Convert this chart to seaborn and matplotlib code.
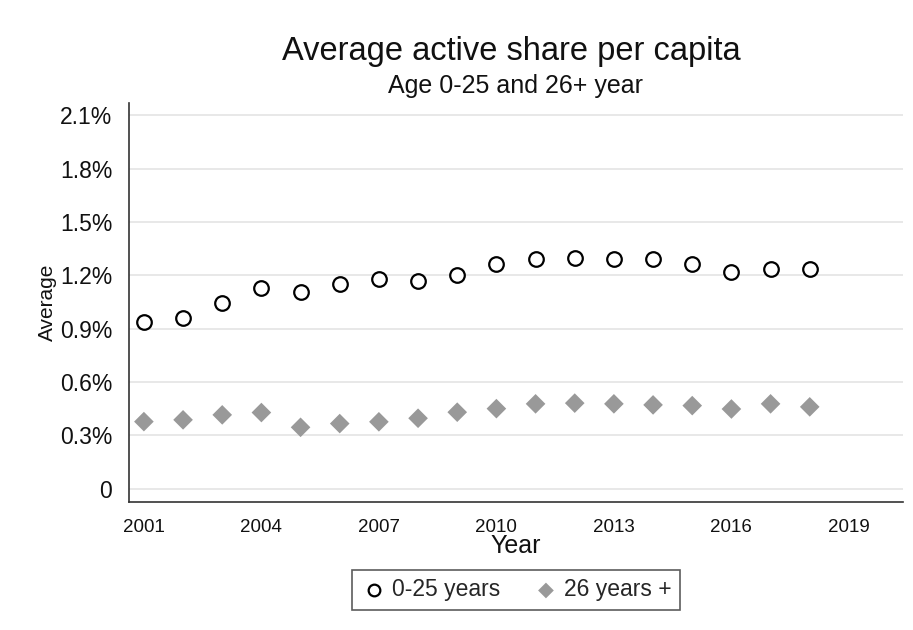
import matplotlib
matplotlib.use("Agg")
import matplotlib.pyplot as plt
import seaborn as sns
import pandas as pd
from matplotlib.ticker import FuncFormatter, FixedLocator

years = list(range(2001, 2019))
young = [0.935, 0.958, 1.046, 1.127, 1.108, 1.153, 1.181, 1.168, 1.202,
         1.264, 1.290, 1.296, 1.292, 1.292, 1.264, 1.221, 1.238, 1.236]
old = [0.377, 0.387, 0.415, 0.428, 0.345, 0.366, 0.376, 0.396, 0.430,
       0.450, 0.477, 0.481, 0.477, 0.471, 0.467, 0.448, 0.477, 0.460]
series_names = ["0-25 years", "26 years +"]
y_ticks = [0, 0.3, 0.6, 0.9, 1.2, 1.5, 1.8, 2.1]
x_ticks = [2001, 2004, 2007, 2010, 2013, 2016, 2019]

df = pd.DataFrame({
    "Year": years * 2,
    "Average": young + old,
    "group": [series_names[0]] * len(years) + [series_names[1]] * len(years),
})

sns.set_theme(style="white")
plt.rcParams["font.family"] = ["Liberation Sans", "DejaVu Sans"]

fig = plt.figure(figsize=(9.13, 6.3), dpi=100)
ax = fig.add_axes([0.1413, 0.2032, 0.989 - 0.1413, 0.8365 - 0.2032])

sub_y = df[df.group == series_names[0]]
sub_o = df[df.group == series_names[1]]
sns.scatterplot(data=sub_y, x="Year", y="Average", ax=ax, marker="o", s=110,
                facecolor="white", edgecolor="black", linewidth=1.6,
                label=series_names[0], zorder=3)
sns.scatterplot(data=sub_o, x="Year", y="Average", ax=ax, marker="D", s=100,
                color="#999999", edgecolor="none", linewidth=0,
                label=series_names[1], zorder=3)

ax.set_xlim(2000.62, 2020.38)
ax.set_ylim(-0.075, 2.169)
ax.xaxis.set_major_locator(FixedLocator(x_ticks))
ax.yaxis.set_major_locator(FixedLocator(y_ticks))
ax.yaxis.set_major_formatter(FuncFormatter(lambda v, p: "0" if abs(v) < 1e-9 else f"{v:.1f}%"))
ax.grid(axis="y", color="#e6e6e6", linewidth=1.3)
ax.grid(axis="x", visible=False)
ax.set_axisbelow(True)

for s in ["top", "right"]:
    ax.spines[s].set_visible(False)
for s in ["left", "bottom"]:
    ax.spines[s].set_color("#333333")
    ax.spines[s].set_linewidth(1.2)

ax.tick_params(axis="both", which="major", direction="out", length=7, width=1.2,
               color="#333333", labelcolor="#111111")
ax.tick_params(axis="y", pad=5, labelsize=16.5)
ax.tick_params(axis="x", pad=5, labelsize=13.5)

ax.set_xlabel("Year", fontsize=18, color="#111111")
ax.set_ylabel("Average", fontsize=15, color="#111111")
ax.xaxis.set_label_coords(0.5, -0.11)
ax.xaxis.label.set_va("center")
ax.yaxis.set_label_coords(-0.106, 0.5)
ax.yaxis.label.set_va("center")

fig.text(0.56, 0.918, "Average active share per capita", ha="center", va="center",
         fontsize=23.5, color="#111111")
fig.text(0.565, 0.863, "Age 0-25 and 26+ year", ha="center", va="center",
         fontsize=18, color="#111111")

leg = ax.legend(loc="center", bbox_to_anchor=(0.565, 0.0635), bbox_transform=fig.transFigure,
                ncol=2, frameon=True, fancybox=False, fontsize=16.5,
                handletextpad=0.2, columnspacing=1.4, borderpad=0.35,
                handlelength=1.2, markerscale=0.8)
leg.get_frame().set_edgecolor("#333333")
leg.get_frame().set_linewidth(1.2)

fig.savefig("out.png", dpi=100)
